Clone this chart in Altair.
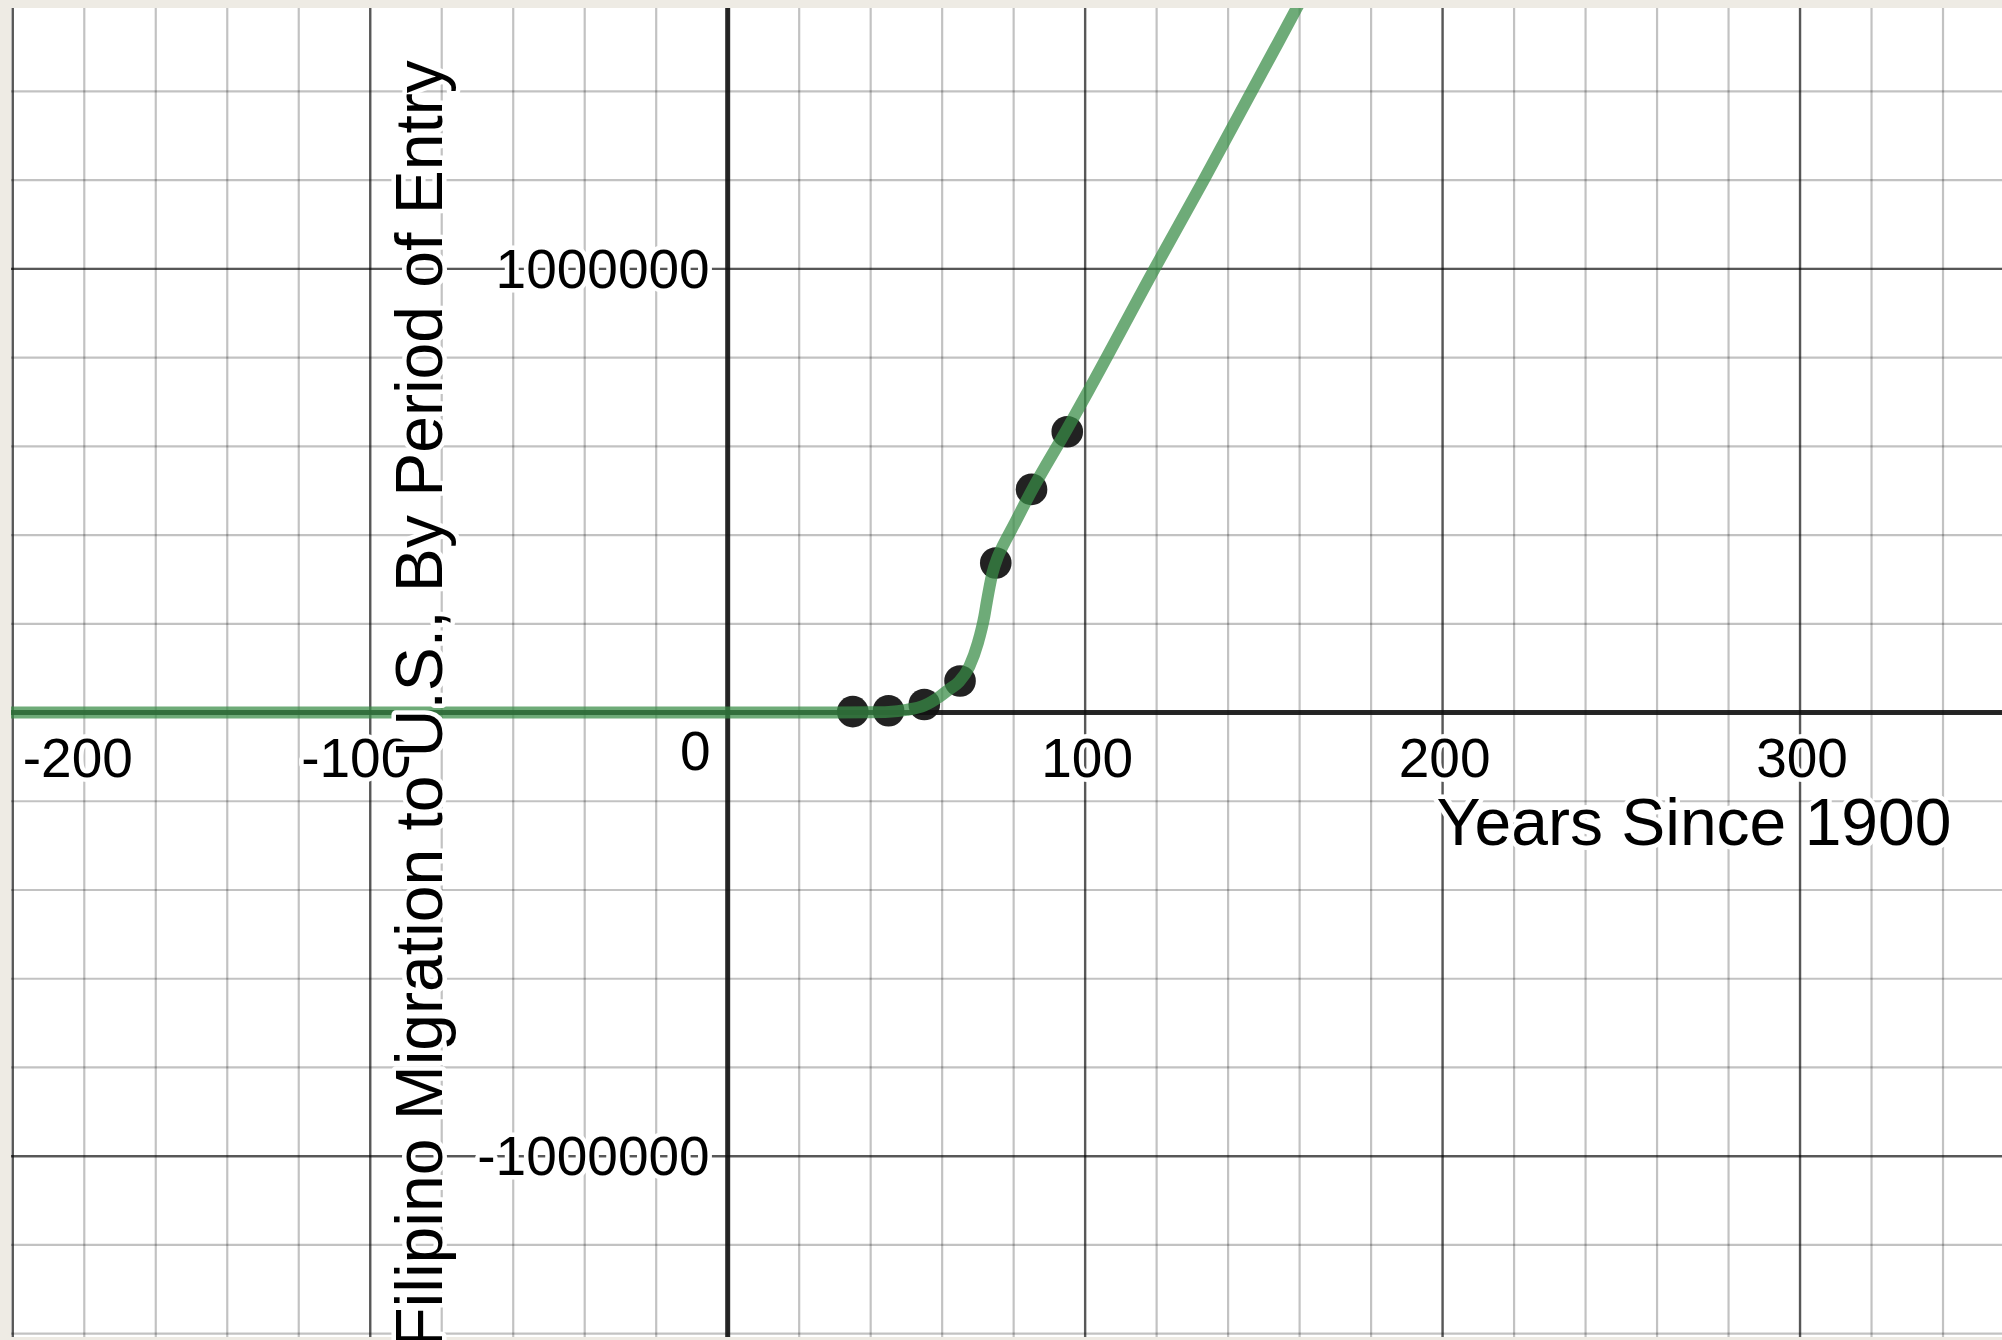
import altair as alt
import pandas as pd

# ---------------- data ----------------
years = [35, 45, 55, 65, 75, 85, 95]
migrants = [2000, 4000, 18000, 71000, 337000, 503000, 633000]

curve_years = [-201, 30, 40, 45, 50, 55, 59.3, 61.9, 64.8, 67.6, 70.0, 71.8,
               72.5, 74.0, 75.5, 77.0, 80.0, 84.9, 94.8, 100.7, 119.4, 132.9,
               159.2, 166]
curve_values = [0, 0, 500, 1500, 6000, 16000, 36000, 52000, 70000, 104000,
                157000, 217000, 250000, 312000, 350000, 376000, 422000,
                498000, 637000, 722000, 1000000, 1196000, 1588000, 1690000]

x_minor = [-200, -180, -160, -140, -120, -100, -80, -60, -40, -20, 0, 20, 40,
           60, 80, 100, 120, 140, 160, 180, 200, 220, 240, 260, 280, 300,
           320, 340]
y_minor = [-1400000, -1200000, -1000000, -800000, -600000, -400000, -200000,
           0, 200000, 400000, 600000, 800000, 1000000, 1200000, 1400000]
x_major = [-200, -100, 100, 200, 300]
y_major = [-1000000, 1000000]

x_pos_ticks = [100, 200, 300]
x_neg_ticks = [-100]
x_edge_ticks = [-200]
origin_tick = [0]
y_ticks = [-1000000, 1000000]

x_title = "Years Since 1900"
y_title = "Filipino Migration to U.S., By Period of Entry"

x_domain = [-200.5, 356.5]
y_domain = [-1407500, 1588000]

# ---------------- helpers ----------------
xs = alt.Scale(domain=x_domain, nice=False, zero=False)
ys = alt.Scale(domain=y_domain, nice=False, zero=False)
FONT = "Liberation Sans"

def df(col, vals):
    return pd.DataFrame({col: vals})

def vrules(vals, opacity, width, color="black"):
    return alt.Chart(df("v", vals)).mark_rule(
        color=color, opacity=opacity, strokeWidth=width
    ).encode(x=alt.X("v:Q", scale=xs, axis=None))

def hrules(vals, opacity, width, color="black"):
    return alt.Chart(df("v", vals)).mark_rule(
        color=color, opacity=opacity, strokeWidth=width
    ).encode(y=alt.Y("v:Q", scale=ys, axis=None))

def tick_text(vals, along, align, dx, dy, size=55):
    d = pd.DataFrame({"v": vals, "t": [str(v) for v in vals]})
    layers = []
    for halo in (True, False):
        if halo:
            mk = dict(color="white", stroke="white", strokeWidth=9,
                      strokeJoin="round")
        else:
            mk = dict(color="black")
        m = alt.Chart(d).mark_text(font=FONT, fontSize=size, align=align,
                                   baseline="alphabetic", dx=dx, dy=dy, **mk)
        m = m.transform_calculate(z="0")
        if along == "x":
            enc = dict(x=alt.X("v:Q", scale=xs, axis=None),
                       y=alt.Y("z:Q", scale=ys, axis=None))
        else:
            enc = dict(y=alt.Y("v:Q", scale=ys, axis=None),
                       x=alt.X("z:Q", scale=xs, axis=None))
        layers.append(m.encode(text="t:N", **enc))
    return layers

def title_text(text, x, y, angle=0):
    layers = []
    for halo in (True, False):
        if halo:
            mk = dict(color="white", stroke="white", strokeWidth=9,
                      strokeJoin="round")
        else:
            mk = dict(color="black")
        kw = dict(font=FONT, fontSize=66, align="center",
                  baseline="alphabetic", text=text, **mk)
        if angle:
            kw["angle"] = angle
        layers.append(alt.Chart(df("a", [0])).mark_text(**kw).encode(
            x=alt.value(x), y=alt.value(y)))
    return layers

# ---------------- layers ----------------
grid = [
    vrules(x_minor, 0.24, 2.2),
    hrules(y_minor, 0.24, 2.2),
    vrules(x_major, 0.55, 2.4),
    hrules(y_major, 0.55, 2.4),
]
axes = [
    vrules([0], 0.9, 5, "#111111"),
    hrules([0], 0.9, 5, "#111111"),
]

points = alt.Chart(pd.DataFrame({"year": years, "n": migrants})).mark_circle(
    size=1000, color="#111111", opacity=0.93
).encode(
    x=alt.X("year:Q", scale=xs, axis=None),
    y=alt.Y("n:Q", scale=ys, axis=None),
)

curve = alt.Chart(pd.DataFrame({"year": curve_years, "n": curve_values})).mark_line(
    color="#388c46", opacity=0.73, strokeWidth=12, interpolate="monotone",
    clip=True
).encode(
    x=alt.X("year:Q", scale=xs, axis=None),
    y=alt.Y("n:Q", scale=ys, axis=None),
    order="year:Q",
)

labels = []
labels += tick_text(x_pos_ticks, "x", "center", 2, 64)
labels += tick_text(x_neg_ticks, "x", "center", -14, 64)
labels += tick_text(x_edge_ticks, "x", "left", 10, 64)
labels += tick_text(origin_tick, "x", "right", -17, 57)
labels += tick_text(y_ticks, "y", "right", -18, 19)

titles = []
titles += title_text(x_title, 1683, 837)
titles += title_text(y_title, 431, 696, angle=270)

chart = alt.layer(*grid, *axes, points, curve, *labels, *titles).properties(
    width=1991,
    height=1329,
    padding={"left": 11, "top": 8, "right": 0, "bottom": 3},
    autosize="none",
    background="#EEEBE4",
).configure_view(stroke=None, fill="white")

chart.save("out.html", embed_options={"renderer": "svg", "actions": False})
